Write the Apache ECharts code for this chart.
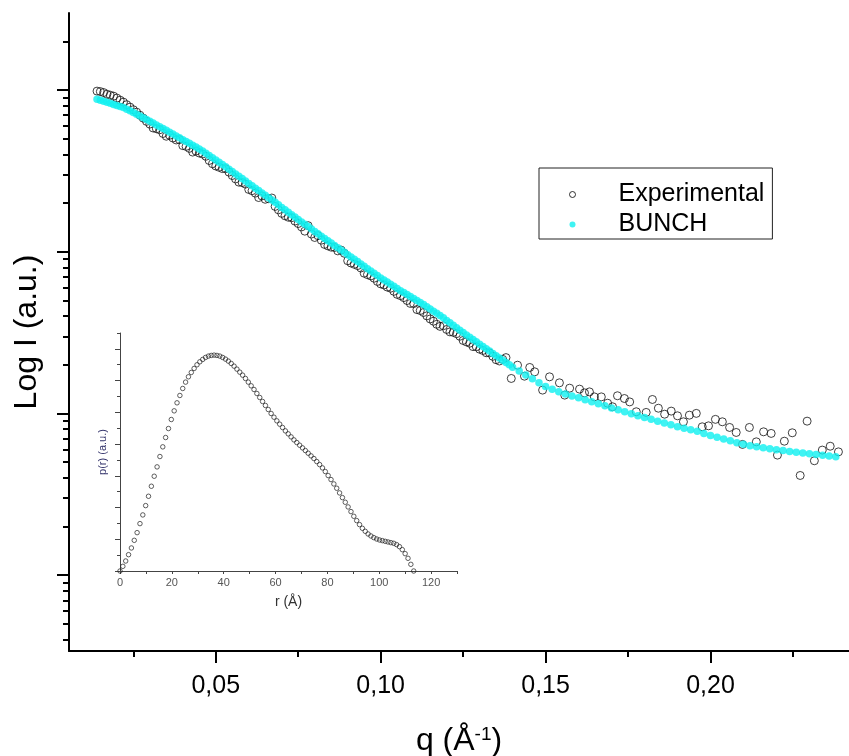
<!DOCTYPE html>
<html><head><meta charset="utf-8">
<script src="https://cdn.jsdelivr.net/npm/echarts@6/dist/echarts.min.js"></script>
<style>html,body{margin:0;padding:0;background:#fff}#c{width:849px;height:756px}</style>
</head><body><div id="c"></div><script>
const FONT = "'Liberation Sans', Arial, sans-serif";

// ---- main plot: q axis ticks / labels ----
const qLabelTicks = [0.05, 0.10, 0.15, 0.20];
const qMinorTicks = [0.025, 0.075, 0.125, 0.175, 0.225];
// ---- main plot: log I ticks (no labels in the original) ----
const iMajorTicks = [0.001, 0.01, 0.1, 1];
const iMinorTicks = [0.0004,0.0005,0.0006,0.0007,0.0008,0.0009,
  0.002,0.003,0.004,0.005,0.006,0.007,0.008,0.009,
  0.02,0.03,0.04,0.05,0.06,0.07,0.08,0.09,
  0.2,0.3,0.4,0.5,0.6,0.7,0.8,0.9,2];

// ---- BUNCH fit: q and log10(I) ----
const bunchQ = [0.014,0.015,0.016,0.017,0.018,0.019,0.020,0.021,0.022,0.023,0.024,0.025,0.026,0.027,0.028,0.029,0.030,0.031,0.032,0.033,0.034,0.035,0.036,0.037,0.038,0.039,0.040,0.041,0.042,0.043,0.044,0.045,0.046,0.047,0.048,0.049,0.050,0.051,0.052,0.053,0.054,0.055,0.056,0.057,0.058,0.059,0.060,0.061,0.062,0.063,0.064,0.065,0.066,0.067,0.068,0.069,0.070,0.071,0.072,0.073,0.074,0.075,0.076,0.077,0.078,0.079,0.080,0.081,0.082,0.083,0.084,0.085,0.086,0.087,0.088,0.089,0.090,0.091,0.092,0.093,0.094,0.095,0.096,0.097,0.098,0.099,0.100,0.101,0.102,0.103,0.104,0.105,0.106,0.107,0.108,0.109,0.110,0.111,0.112,0.113,0.114,0.115,0.116,0.117,0.118,0.119,0.120,0.121,0.122,0.123,0.124,0.125,0.126,0.127,0.128,0.129,0.130,0.131,0.132,0.133,0.134,0.135,0.136,0.137,0.138,0.139,
  0.140,0.142,0.144,0.146,0.148,0.150,0.152,0.154,0.156,0.158,0.160,0.162,0.164,0.166,0.168,0.170,0.172,0.174,0.176,0.178,0.180,0.182,0.184,0.186,0.188,0.190,0.192,0.194,0.196,0.198,0.200,0.202,0.204,0.206,0.208,0.210,0.212,0.214,0.216,0.218,0.220,0.222,0.224,0.226,0.228,0.230,0.232,0.234,0.236,0.238];
const bunchLogI = [-0.056,-0.062,-0.069,-0.075,-0.081,-0.088,-0.095,-0.101,-0.108,-0.118,-0.128,-0.138,-0.149,-0.160,-0.171,-0.181,-0.192,-0.203,-0.215,-0.226,-0.237,-0.248,-0.260,-0.271,-0.283,-0.294,-0.306,-0.317,-0.329,-0.340,-0.352,-0.364,-0.377,-0.390,-0.404,-0.418,-0.432,-0.446,-0.460,-0.474,-0.489,-0.503,-0.518,-0.532,-0.547,-0.562,-0.577,-0.591,-0.606,-0.621,-0.636,-0.650,-0.665,-0.679,-0.694,-0.709,-0.725,-0.740,-0.755,-0.770,-0.785,-0.800,-0.815,-0.829,-0.844,-0.859,-0.874,-0.888,-0.903,-0.917,-0.932,-0.946,-0.961,-0.975,-0.989,-1.003,-1.018,-1.032,-1.046,-1.060,-1.075,-1.089,-1.104,-1.118,-1.132,-1.146,-1.161,-1.174,-1.187,-1.200,-1.213,-1.226,-1.240,-1.252,-1.264,-1.276,-1.289,-1.301,-1.313,-1.326,-1.340,-1.353,-1.367,-1.380,-1.393,-1.408,-1.424,-1.439,-1.454,-1.469,-1.485,-1.499,-1.514,-1.528,-1.542,-1.556,-1.571,-1.585,-1.599,-1.613,-1.628,-1.642,-1.657,-1.671,-1.685,-1.699,
  -1.713,-1.737,-1.761,-1.785,-1.809,-1.833,-1.850,-1.865,-1.879,-1.891,-1.903,-1.915,-1.927,-1.939,-1.952,-1.965,-1.976,-1.989,-2.001,-2.013,-2.025,-2.036,-2.048,-2.059,-2.070,-2.081,-2.091,-2.100,-2.110,-2.123,-2.136,-2.147,-2.158,-2.169,-2.180,-2.190,-2.199,-2.205,-2.211,-2.218,-2.224,-2.229,-2.234,-2.239,-2.244,-2.249,-2.254,-2.258,-2.262,-2.267];

// ---- Experimental: q and log10(I) ----
const expQ = [0.014,0.015,0.016,0.017,0.018,0.019,0.020,0.021,0.022,0.023,0.024,0.025,0.026,0.027,0.028,0.029,0.030,0.031,0.032,0.033,0.034,0.035,0.036,0.037,0.038,0.039,0.040,0.041,0.042,0.043,0.044,0.045,0.046,0.047,0.048,0.049,0.050,0.051,0.052,0.053,0.054,0.055,0.056,0.057,0.058,0.059,0.060,0.061,0.062,0.063,0.064,0.065,0.066,0.067,0.068,0.069,0.070,0.071,0.072,0.073,0.074,0.075,0.076,0.077,0.078,0.079,0.080,0.081,0.082,0.083,0.084,0.085,0.086,0.087,0.088,0.089,0.090,0.091,0.092,0.093,0.094,0.095,0.096,0.097,0.098,0.099,0.100,0.101,0.102,0.103,0.104,0.105,0.106,0.107,0.108,0.109,0.110,0.111,0.112,0.113,0.114,0.115,0.116,0.117,0.118,0.119,0.120,0.121,0.122,0.123,0.124,0.125,0.126,0.127,0.128,0.129,0.130,0.131,0.132,0.133,0.134,0.135,0.136,0.137,0.138,
  0.1396,0.1415,0.1436,0.1452,0.1467,0.1491,0.1512,0.1542,0.1558,0.1573,0.1603,0.1618,0.1633,0.1648,0.1669,0.1688,0.1703,0.1718,0.1739,0.1755,0.1775,0.1805,0.1824,0.1842,0.1861,0.1881,0.1900,0.1918,0.1936,0.1957,0.1975,0.1994,0.2015,0.2036,0.2058,0.2078,0.2097,0.2118,0.2139,0.2161,0.2184,0.2203,0.2224,0.2248,0.2272,0.2293,0.2315,0.2339,0.2363,0.2388];
const expLogI = [-0.006,-0.009,-0.015,-0.025,-0.031,-0.037,-0.049,-0.062,-0.074,-0.090,-0.105,-0.121,-0.136,-0.155,-0.173,-0.193,-0.210,-0.234,-0.239,-0.245,-0.268,-0.285,-0.279,-0.296,-0.308,-0.306,-0.343,-0.348,-0.360,-0.383,-0.377,-0.389,-0.395,-0.409,-0.435,-0.455,-0.469,-0.477,-0.485,-0.486,-0.507,-0.528,-0.549,-0.569,-0.572,-0.581,-0.614,-0.622,-0.637,-0.664,-0.654,-0.675,-0.671,-0.667,-0.719,-0.740,-0.762,-0.777,-0.786,-0.789,-0.810,-0.825,-0.846,-0.872,-0.838,-0.890,-0.911,-0.900,-0.928,-0.954,-0.963,-0.971,-0.973,-0.994,-0.989,-1.009,-1.055,-1.069,-1.077,-1.085,-1.100,-1.132,-1.141,-1.149,-1.163,-1.183,-1.198,-1.205,-1.218,-1.225,-1.244,-1.263,-1.271,-1.283,-1.301,-1.319,-1.320,-1.357,-1.363,-1.375,-1.396,-1.415,-1.429,-1.448,-1.461,-1.457,-1.480,-1.495,-1.498,-1.506,-1.522,-1.548,-1.557,-1.565,-1.586,-1.587,-1.602,-1.610,-1.624,-1.625,-1.646,-1.667,-1.675,-1.665,-1.654,
  -1.783,-1.701,-1.769,-1.715,-1.742,-1.855,-1.773,-1.810,-1.886,-1.843,-1.849,-1.872,-1.866,-1.897,-1.897,-1.936,-1.958,-1.890,-1.907,-1.928,-1.989,-1.993,-1.913,-1.967,-2.004,-1.985,-2.014,-2.051,-2.010,-1.999,-2.082,-2.076,-2.036,-2.051,-2.086,-2.117,-2.191,-2.086,-2.175,-2.113,-2.123,-2.257,-2.171,-2.119,-2.383,-2.047,-2.292,-2.226,-2.202,-2.237];

// ---- inset: pair distance distribution p(r) ----
const rValues = [0,1.1,2.2,3.3,4.4,5.5,6.6,7.7,8.8,9.9,11,12.1,13.2,14.3,15.4,16.5,17.6,18.7,19.8,20.9,22,23.1,24.2,25.3,26.4,27.5,28.6,29.7,30.8,31.9,33,34.1,35.2,36.3,37.4,38.5,39.6,40.7,41.8,42.9,44,45.1,46.2,47.3,48.4,49.5,50.6,51.7,52.8,53.9,55,56.1,57.2,58.3,59.4,60.5,61.6,62.7,63.8,64.9,66,67.1,68.2,69.3,70.4,71.5,72.6,73.7,74.8,75.9,77,78.1,79.2,80.3,81.4,82.5,83.6,84.7,85.8,86.9,88,89.1,90.2,91.3,92.4,93.5,94.6,95.7,96.8,97.9,99,100.1,101.2,102.3,103.4,104.5,105.6,106.7,107.8,108.9,110,111.1,112.2,113.3];
const prValues = [0,0.147,0.315,0.515,0.726,0.967,1.209,1.493,1.767,2.061,2.355,2.671,2.986,3.281,3.607,3.912,4.206,4.490,4.774,5.047,5.300,5.531,5.752,5.952,6.120,6.257,6.383,6.498,6.593,6.667,6.730,6.772,6.793,6.803,6.793,6.772,6.730,6.677,6.614,6.540,6.456,6.362,6.267,6.172,6.067,5.952,5.836,5.720,5.594,5.468,5.342,5.216,5.089,4.963,4.847,4.732,4.627,4.522,4.416,4.322,4.227,4.132,4.048,3.964,3.880,3.796,3.712,3.628,3.544,3.449,3.354,3.249,3.134,3.007,2.881,2.744,2.608,2.461,2.313,2.166,2.019,1.872,1.724,1.588,1.462,1.346,1.251,1.167,1.104,1.052,1.009,0.978,0.957,0.936,0.915,0.894,0.873,0.831,0.768,0.673,0.547,0.400,0.210,0];
const rLabelTicks = [0, 20, 40, 60, 80, 100, 120];
const pMajorTicks = [0,1,2,3,4,5,6,7];
const pMinorTicks = [0.5,1.5,2.5,3.5,4.5,5.5,6.5,7.5];

const expData = expQ.map((q, i) => [q, Math.pow(10, expLogI[i])]);
const bunchData = bunchQ.map((q, i) => [q, Math.pow(10, bunchLogI[i])]);
const prData = rValues.map((r, i) => [r, prValues[i]]);

const Q_MIN = 0.0055, Q_MAX = 0.242, I_MIN = 3.4e-4, I_MAX = 3;
const CYAN = '#0FF0F0';

const chart = echarts.init(document.getElementById('c'), null, {renderer: 'canvas'});
chart.setOption({
  animation: false,
  backgroundColor: '#fff',
  textStyle: {fontFamily: FONT},
  grid: [
    {left: 69, right: 0, top: 13, bottom: 105, outerBoundsMode: 'none'},
    {left: 120, top: 333, width: 337, height: 238, outerBoundsMode: 'none'}
  ],
  legend: {
    show: true, orient: 'vertical', left: 539, top: 168,
    padding: [14, 8, 2, 30], itemGap: 5, itemWidth: 6, itemHeight: 6,
    borderColor: '#222', borderWidth: 1, icon: 'circle',
    data: [
      {name: 'Experimental', itemStyle: {color: 'rgba(0,0,0,0)', borderColor: '#000', borderWidth: 1}},
      {name: 'BUNCH', itemStyle: {color: CYAN, borderWidth: 0}}
    ],
    formatter: '{t|{name}}',
    textStyle: {rich: {t: {fontSize: 25, fontFamily: FONT, color: '#000', padding: [0, 0, 0, 38], lineHeight: 26}}}
  },
  xAxis: [
    {
      type: 'value', gridIndex: 0, min: Q_MIN, max: Q_MAX, position: 'bottom',
      name: '{a|q (Å}{b|-1}{a|)}', nameLocation: 'middle', nameGap: 74,
      nameTextStyle: {rich: {a: {fontSize: 32, fontFamily: FONT, color: '#000'}, b: {fontSize: 19, fontFamily: FONT, color: '#000', verticalAlign: 'top'}}},
      axisLine: {show: true, onZero: false, lineStyle: {color: '#000', width: 2}},
      axisTick: {show: true, customValues: qLabelTicks, length: 12, lineStyle: {color: '#000', width: 2}},
      axisLabel: {show: true, customValues: qLabelTicks, fontSize: 25, color: '#000', fontFamily: FONT, margin: 23,
        formatter: v => v.toFixed(2).replace('.', ',')},
      splitLine: {show: false}
    },
    {
      type: 'value', gridIndex: 0, min: Q_MIN, max: Q_MAX, position: 'bottom',
      axisLine: {show: false},
      axisTick: {show: true, customValues: qMinorTicks, length: 6, lineStyle: {color: '#000', width: 2}},
      axisLabel: {show: false}, splitLine: {show: false}
    },
    {
      type: 'value', gridIndex: 1, min: 0, max: 130, interval: 10, position: 'bottom',
      name: 'r (Å)', nameLocation: 'middle', nameGap: 24,
      nameTextStyle: {fontSize: 14, color: '#333', fontFamily: FONT},
      axisLine: {show: true, onZero: false, lineStyle: {color: '#444', width: 1}},
      axisTick: {show: true, length: 3, lineStyle: {color: '#444', width: 1}},
      axisLabel: {show: true, customValues: rLabelTicks, fontSize: 11, color: '#555', fontFamily: FONT, margin: 6},
      splitLine: {show: false}
    }
  ],
  yAxis: [
    {
      type: 'log', gridIndex: 0, min: I_MIN, max: I_MAX, position: 'left', logBase: 10,
      name: 'Log I (a.u.)', nameLocation: 'middle', nameGap: 26, nameRotate: 90,
      nameTextStyle: {fontSize: 32, color: '#000', fontFamily: FONT},
      axisLine: {show: true, onZero: false, lineStyle: {color: '#000', width: 2}},
      axisTick: {show: true, customValues: iMajorTicks, length: 12, lineStyle: {color: '#000', width: 2}},
      axisLabel: {show: false}, splitLine: {show: false}
    },
    {
      type: 'log', gridIndex: 0, min: I_MIN, max: I_MAX, position: 'left', logBase: 10,
      axisLine: {show: false},
      axisTick: {show: true, customValues: iMinorTicks, length: 6, lineStyle: {color: '#000', width: 2}},
      axisLabel: {show: false}, splitLine: {show: false}
    },
    {
      type: 'value', gridIndex: 1, min: 0, max: 7.5, interval: 0.5, position: 'left',
      name: 'p(r) (a.u.)', nameLocation: 'middle', nameGap: 12, nameRotate: 90,
      nameTextStyle: {fontSize: 11, color: '#33336b', fontFamily: FONT},
      axisLine: {show: true, onZero: false, lineStyle: {color: '#444', width: 1}},
      axisTick: {show: true, customValues: pMajorTicks, length: 5, lineStyle: {color: '#444', width: 1}},
      axisLabel: {show: false}, splitLine: {show: false}
    },
    {
      type: 'value', gridIndex: 1, min: 0, max: 7.5, interval: 0.5, position: 'left',
      axisLine: {show: false},
      axisTick: {show: true, customValues: pMinorTicks, length: 3, lineStyle: {color: '#444', width: 1}},
      axisLabel: {show: false}, splitLine: {show: false}
    }
  ],
  series: [
    {
      name: 'Experimental', type: 'scatter', xAxisIndex: 0, yAxisIndex: 0, z: 2,
      symbol: 'circle', symbolSize: 8, data: expData,
      itemStyle: {color: 'rgba(255,255,255,0)', borderColor: '#111', borderWidth: 1},
      emphasis: {disabled: true}
    },
    {
      name: 'BUNCH', type: 'scatter', xAxisIndex: 0, yAxisIndex: 0, z: 3,
      symbol: 'circle', symbolSize: 7.5, data: bunchData,
      itemStyle: {color: CYAN, borderWidth: 0},
      emphasis: {disabled: true}
    },
    {
      name: 'p(r)', type: 'scatter', xAxisIndex: 2, yAxisIndex: 2, z: 2,
      symbol: 'circle', symbolSize: 4.5, data: prData,
      itemStyle: {color: 'rgba(255,255,255,0)', borderColor: '#222', borderWidth: 0.9},
      emphasis: {disabled: true}
    }
  ]
});
</script></body></html>
